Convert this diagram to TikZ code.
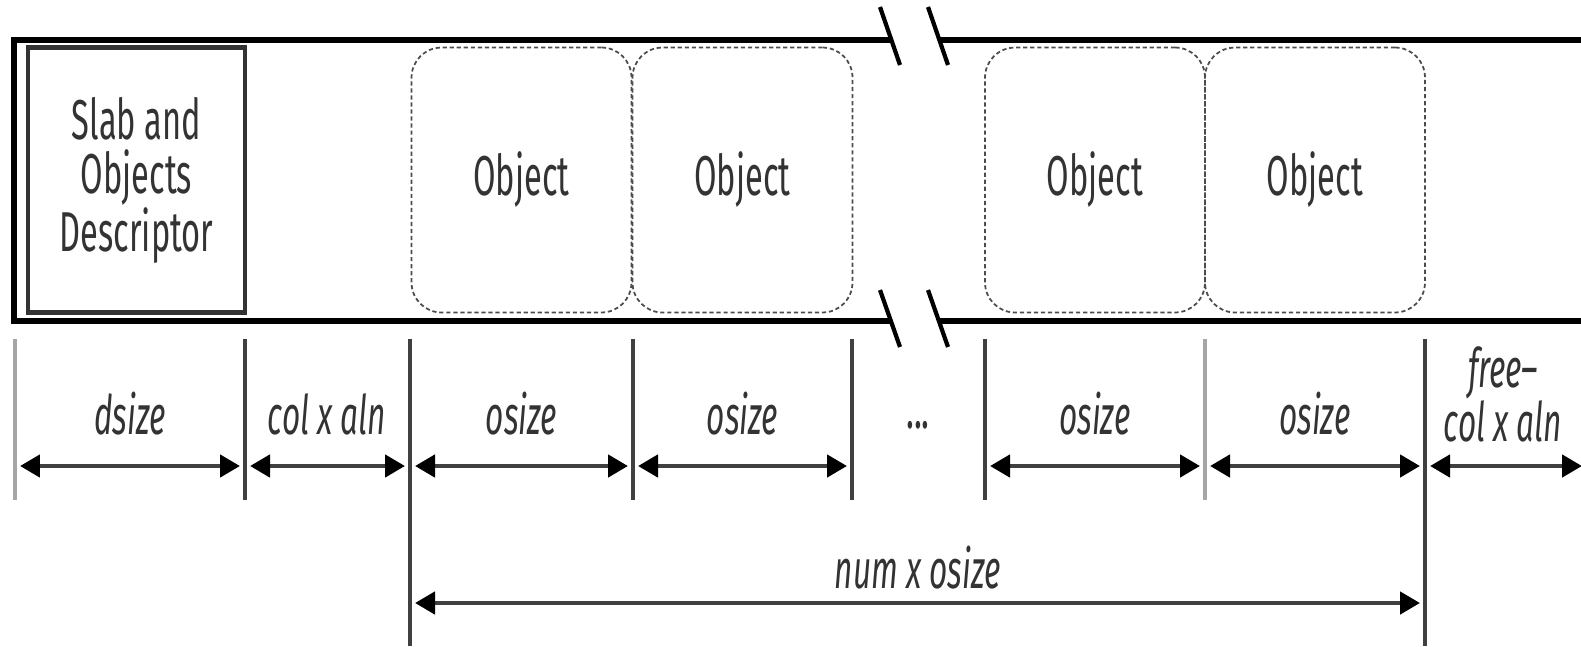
\documentclass[tikz,border=0pt]{standalone}
\usepackage{fontspec}
\setmainfont{Fira Sans}[FakeStretch=0.58]
\usetikzlibrary{arrows.meta}
\newcommand\objfont{\fontsize{32}{31}\selectfont}
\newcommand\lblfont{\itshape\fontsize{31}{25.5}\selectfont}
\begin{document}
\begin{tikzpicture}[x=0.02cm,y=-0.02cm]
\tikzset{
  bar/.style={line width=3.6pt, draw=black},
  brk/.style={line width=2.4pt, draw=black},
  tickline/.style={line width=1.8pt, draw=black!75},
  lighttick/.style={line width=1.8pt, draw=black!35},
  dim/.style={line width=2.6pt, draw=black!75,
    {Triangle[length=0.4cm,width=0.44cm,color=black]}-{Triangle[length=0.4cm,width=0.44cm,color=black]}},
  obj/.style={draw=black!70, dash pattern=on 2.4pt off 1.6pt, line width=1pt,
    rounded corners=0.6cm, minimum width=4.4cm, minimum height=5.3cm,
    inner sep=0pt, font=\objfont, text=black!80},
  descbox/.style={draw=black!80, line width=2.8pt, minimum width=4.34cm,
    minimum height=5.3cm, inner sep=0pt, font=\objfont, align=center, text=black!80},
  lbl/.style={font=\lblfont, align=center, text=black!80, inner sep=0pt},
}
\useasboundingbox (0,0) rectangle (1581,646);

% bar outline
\draw[bar] (891,40) -- (14,40) -- (14,321) -- (891,321);
\draw[bar] (940,40) -- (1581,40);
\draw[bar] (940,321) -- (1581,321);
% break marks
\draw[brk] (880,7) -- (900,65);
\draw[brk] (928,7) -- (948,65);
\draw[brk] (880,290) -- (900,347);
\draw[brk] (928,290) -- (948,347);

% descriptor and objects
\node[descbox] (desc) at (136.5,180) {Slab and\\Objects\\Descriptor};
\node[obj] (o1) at (521.5,180) {Object};
\node[obj] (o2) at (742.5,180) {Object};
\node[obj] (o3) at (1095,180) {Object};
\node[obj] (o4) at (1315,180) {Object};

% tick lines
\draw[lighttick] (15,339) -- (15,500);
\draw[tickline] (245,339) -- (245,500);
\draw[tickline] (410,339) -- (410,646);
\draw[tickline] (633,339) -- (633,500);
\draw[tickline] (852,339) -- (852,500);
\draw[tickline] (985,339) -- (985,500);
\draw[lighttick] (1205,339) -- (1205,500);
\draw[tickline] (1425,339) -- (1425,646);

% arrow end coordinates
\coordinate (a0) at (20,466);
\coordinate (a1l) at (240,466);
\coordinate (a1r) at (250,466);
\coordinate (a2l) at (405,466);
\coordinate (a2r) at (415,466);
\coordinate (a3l) at (628,466);
\coordinate (a3r) at (638,466);
\coordinate (a4l) at (847,466);
\coordinate (a5r) at (990,466);
\coordinate (a6l) at (1200,466);
\coordinate (a6r) at (1210,466);
\coordinate (a7l) at (1420,466);
\coordinate (a7r) at (1430,466);
\coordinate (a8) at (1582,466);
\coordinate (b0) at (415,603);
\coordinate (b1) at (1420,603);

\draw[dim] (a0) -- (a1l);
\draw[dim] (a1r) -- (a2l);
\draw[dim] (a2r) -- (a3l);
\draw[dim] (a3r) -- (a4l);
\draw[dim] (a5r) -- (a6l);
\draw[dim] (a6r) -- (a7l);
\draw[dim] (a7r) -- (a8);
\draw[dim] (b0) -- (b1);

% labels
\node[lbl] (l1) at (130,414) {dsize};
\node[lbl] (l2) at (327,414) {col x aln};
\node[lbl] (l3) at (521.5,414) {osize};
\node[lbl] (l4) at (742.5,414) {osize};
\node[lbl, font=\objfont] (l5) at (918,425) {...};
\node[lbl] (l6) at (1095,414) {osize};
\node[lbl] (l7) at (1315,414) {osize};
\node[lbl] (l8) at (1503,394) {free--\\col x aln};
\node[lbl] (l9) at (918,568) {num x osize};
\end{tikzpicture}
\end{document}
